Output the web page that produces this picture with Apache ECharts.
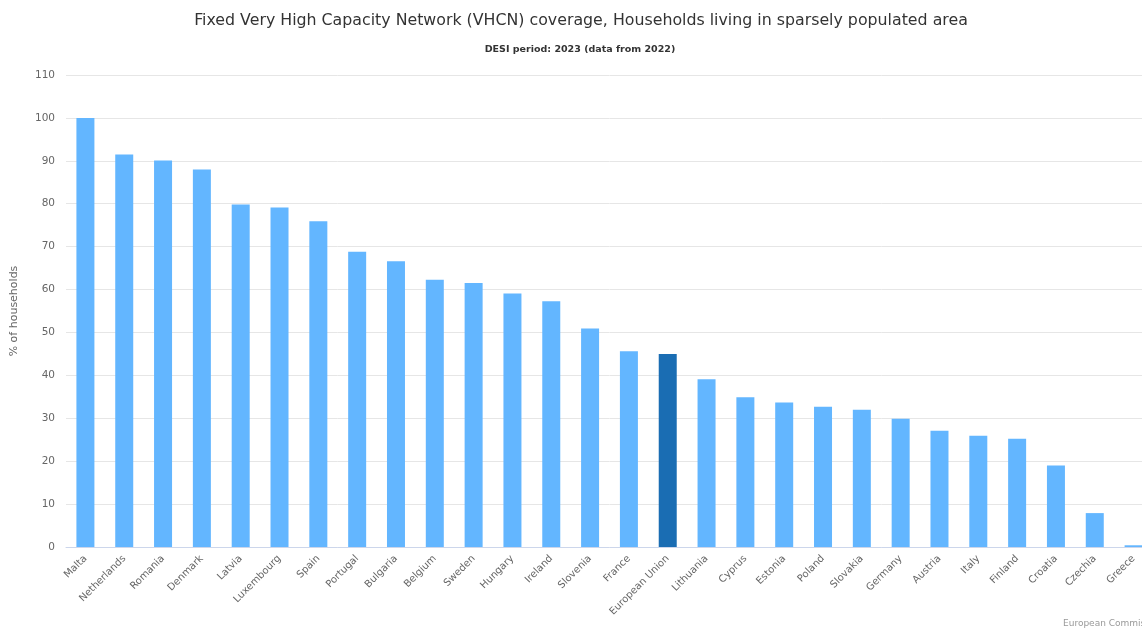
<!DOCTYPE html>
<html>
<head>
<meta charset="utf-8">
<script src="https://cdn.jsdelivr.net/npm/echarts@6/dist/echarts.min.js"></script>
<style>
html,body{margin:0;padding:0;background:#fff;overflow:hidden;width:1142px;height:628px;}
#wrap{width:1142px;height:628px;overflow:hidden;position:relative;}
#chart{width:1162px;height:628px;position:absolute;left:0;top:0;}
</style>
</head>
<body>
<div id="wrap"><div id="chart"></div></div>
<script>
const categories = ["Malta","Netherlands","Romania","Denmark","Latvia","Luxembourg","Spain","Portugal","Bulgaria","Belgium","Sweden","Hungary","Ireland","Slovenia","France","European Union","Lithuania","Cyprus","Estonia","Poland","Slovakia","Germany","Austria","Italy","Finland","Croatia","Czechia","Greece"];
const values = [100, 91.5, 90.1, 88.0, 79.8, 79.1, 75.9, 68.8, 66.6, 62.3, 61.5, 59.1, 57.3, 50.9, 45.6, 45.0, 39.1, 34.9, 33.7, 32.7, 32.0, 29.9, 27.1, 25.9, 25.2, 19.0, 7.9, 0.4];
const highlighted = "European Union";
const titleText = "Fixed Very High Capacity Network (VHCN) coverage, Households living in sparsely populated area";
const subtitleText = "DESI period: 2023 (data from 2022)";
const yAxisName = "% of households";
const creditText = "European Commission";

const FONT = "DejaVu Sans";
const chart = echarts.init(document.getElementById('chart'), null, {renderer:'canvas'});
const seriesData = values.map((v, i) => categories[i] === highlighted
  ? {value: v, itemStyle: {color: '#1a6db3'}}
  : v);

chart.setOption({
  animation: false,
  textStyle: {fontFamily: FONT},
  grid: {left: 66, top: 75, width: 1087, height: 472, containLabel: false},
  graphic: [
    {type:'text', x:581, y:21, style:{text:titleText, fill:'#333', font:'15.8px "DejaVu Sans"', textAlign:'center', textVerticalAlign:'middle'}},
    {type:'text', x:580, y:50, style:{text:subtitleText, fill:'#333', font:'bold 9.5px "DejaVu Sans"', textAlign:'center', textVerticalAlign:'middle'}},
    {type:'text', x:1063, y:624, style:{text:creditText, fill:'#999', font:'9px "DejaVu Sans"', textAlign:'left', textVerticalAlign:'middle'}}
  ],
  xAxis: {
    type: 'category',
    data: categories,
    axisLine: {lineStyle: {color: '#ccd6eb'}},
    axisTick: {show: false},
    axisLabel: {rotate: 45, color: '#666', fontSize: 10, margin: 10, interval: 0, fontFamily: FONT}
  },
  yAxis: {
    type: 'value',
    min: 0, max: 110, interval: 10,
    name: yAxisName,
    nameLocation: 'middle',
    nameGap: 46,
    nameTextStyle: {color: '#666', fontSize: 11, fontFamily: FONT},
    axisLine: {show: false},
    axisTick: {show: false},
    axisLabel: {color: '#666', fontSize: 10.5, margin: 11, fontFamily: FONT},
    splitLine: {lineStyle: {color: '#e6e6e6', width: 1}}
  },
  series: [{
    type: 'bar',
    data: seriesData,
    barWidth: 18,
    itemStyle: {color: '#63b6ff'}
  }]
});
</script>
</body>
</html>
